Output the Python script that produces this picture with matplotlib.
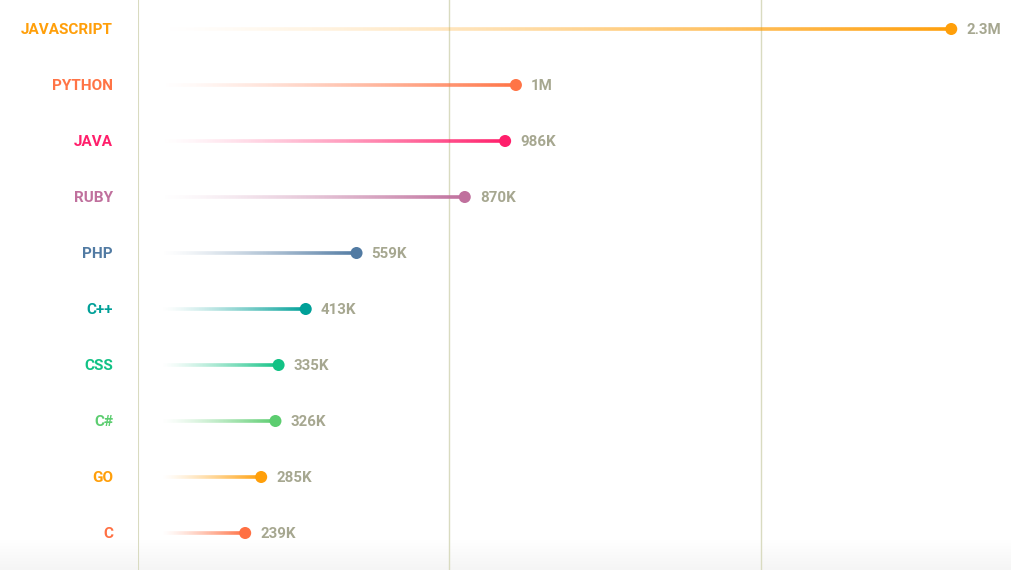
import matplotlib
matplotlib.use("Agg")
import matplotlib.pyplot as plt
import numpy as np
from matplotlib.collections import LineCollection
from matplotlib.colors import to_rgba
import matplotlib.transforms as mtransforms

# ---- data ----
languages = ["JAVASCRIPT", "PYTHON", "JAVA", "RUBY", "PHP", "C++", "CSS", "C#", "GO", "C"]
users_k = [2268, 1017, 986, 870, 559, 413, 335, 326, 285, 239]
colors = ["#ff9f0a", "#ff7446", "#ff1f6b", "#c0709d", "#527ba3",
          "#00a098", "#12c285", "#5ccd70", "#ff9f0a", "#ff7043"]

def fmt(v):
    if v >= 1000:
        s = f"{v/1000:.1f}"
        if s.endswith(".0"):
            s = s[:-2]
        return s + "M"
    return f"{int(round(v))}K"

W, H, DPI = 1011, 570, 100
fig = plt.figure(figsize=(W / DPI, H / DPI), dpi=DPI)
fig.patch.set_facecolor("white")

# bottom subtle gradient
bg = fig.add_axes([0, 0, 1, 30 / H], zorder=0)
n = 64
rgba = np.zeros((n, 1, 4))
rgba[..., :3] = 0.962
rgba[:, 0, 3] = np.linspace(0, 1, n)
bg.imshow(rgba, aspect="auto", extent=[0, 1, 0, 1], origin="upper", interpolation="bilinear")
bg.set_xlim(0, 1); bg.set_ylim(0, 1)
bg.axis("off")

left_px = 138
ax = fig.add_axes([left_px / W, 0, (W - left_px) / W, 1], zorder=1)
ax.patch.set_alpha(0)

px_per_k = 0.348  # pixels per thousand
zero_px = 162
xmin = (left_px - zero_px) / px_per_k
xmax = (W - zero_px) / px_per_k
ax.set_xlim(xmin, xmax)
row_h = 56
first_row = 29
ax.set_ylim((H - first_row) / row_h, -first_row / row_h)

for s in ax.spines.values():
    s.set_visible(False)
ax.set_xticks([]); ax.set_yticks([])

grid_col = "#d9dbc0"
ax.axvline(xmin, color=grid_col, lw=1.5, zorder=1)
for frac in [311 / 873, 623 / 873]:
    ax.axvline(xmin + frac * (xmax - xmin), color=grid_col, lw=1.0, zorder=1)

name_font = ["Roboto", "DejaVu Sans"]
n_seg = 200
tr = mtransforms.blended_transform_factory(ax.transAxes, ax.transData)
for i, (lang, v, c) in enumerate(zip(languages, users_k, colors)):
    xs = np.linspace(0, v, n_seg + 1)
    segs = [[(xs[j], i), (xs[j + 1], i)] for j in range(n_seg)]
    base = np.array(to_rgba(c))
    cols = np.tile(base, (n_seg, 1))
    cols[:, 3] = np.linspace(0, 1, n_seg) ** 1.3
    lc = LineCollection(segs, colors=cols, linewidths=2.6, capstyle="butt", zorder=2)
    ax.add_collection(lc)
    ax.scatter([v], [i], s=75, color=c, zorder=3, edgecolors="none")
    ax.annotate(fmt(v), xy=(v, i), xytext=(15, -1), textcoords="offset pixels",
                ha="left", va="center", fontsize=10.8, fontweight="bold",
                color="#a6a790", family=name_font)
    ax.annotate(lang, xy=(0, i), xycoords=tr, xytext=(-25, -1.5), textcoords="offset pixels",
                ha="right", va="center", fontsize=11, fontweight="bold",
                color=c, family=name_font, annotation_clip=False)

fig.savefig("out.png", dpi=DPI, facecolor="white")
